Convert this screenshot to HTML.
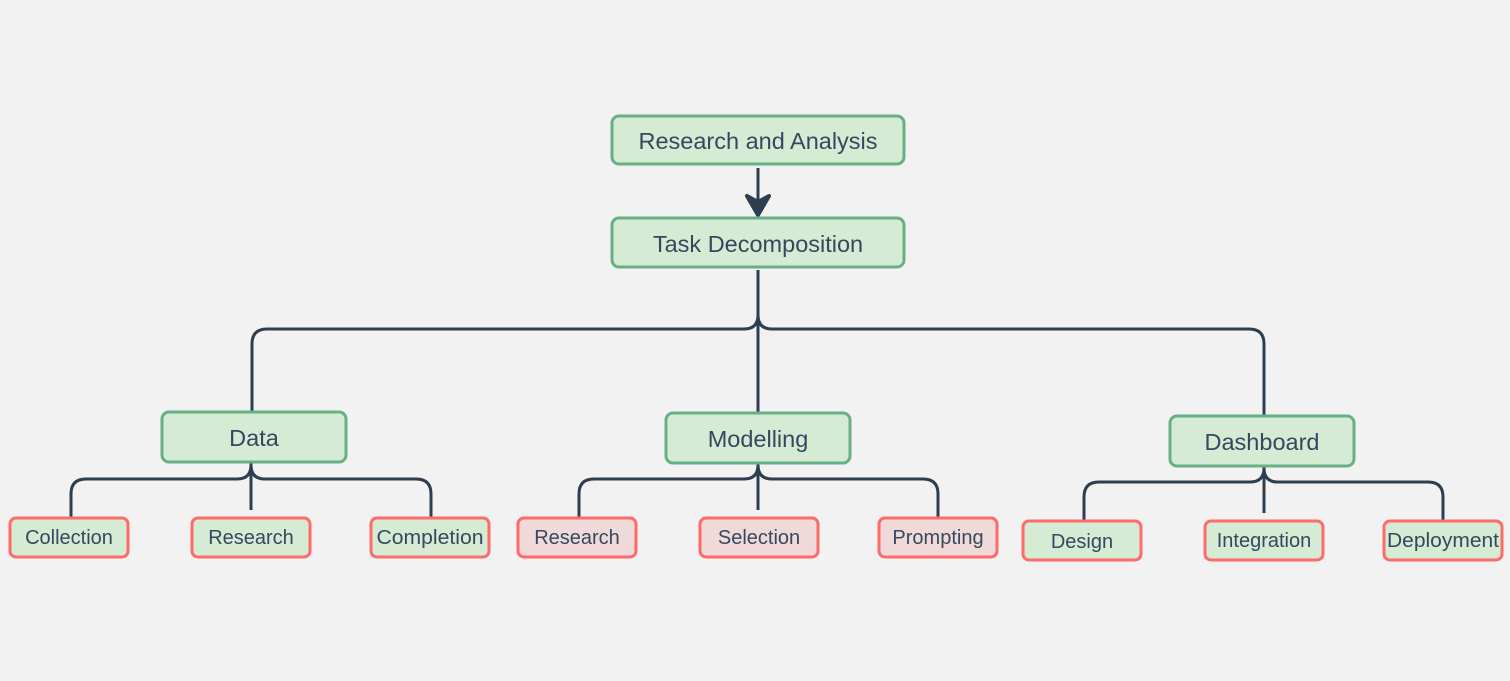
<!DOCTYPE html>
<html><head><meta charset="utf-8"><style>
html,body{margin:0;padding:0;background:#f2f2f2;}
svg{display:block}
text{font-family:"Liberation Sans","DejaVu Sans",sans-serif;fill:#34495e;text-anchor:middle;dominant-baseline:central}
</style></head><body>
<svg width="1510" height="681" viewBox="0 0 1510 681">
<rect width="1510" height="681" fill="#f2f2f2"/>
<g fill="none" stroke="#2d3e50" stroke-width="3">
<line x1="758" y1="168" x2="758" y2="206"/>
<path d="M252 412 V344 Q252 329 267 329 H744 Q758 329 758 315 V270"/>
<path d="M1264 416 V344 Q1264 329 1249 329 H772 Q758 329 758 315"/>
<line x1="758" y1="315" x2="758" y2="412"/>
<path d="M71 518 V494 Q71 479 86 479 H237 Q251 479 251 465"/>
<path d="M431 518 V494 Q431 479 416 479 H265 Q251 479 251 465"/>
<line x1="251" y1="463" x2="251" y2="510"/>
<path d="M579 518 V494 Q579 479 594 479 H744 Q758 479 758 465"/>
<path d="M938 518 V494 Q938 479 923 479 H772 Q758 479 758 465"/>
<line x1="758" y1="464" x2="758" y2="510"/>
<path d="M1084 521 V497 Q1084 482 1099 482 H1250 Q1264 482 1264 468"/>
<path d="M1443 521 V497 Q1443 482 1428 482 H1278 Q1264 482 1264 468"/>
<line x1="1264" y1="467" x2="1264" y2="513"/>
</g>
<path d="M747 196 L758 215 L769 196 L758 202 Z" fill="#2d3e50" stroke="#2d3e50" stroke-width="4" stroke-linejoin="round"/>
<g stroke-width="3">
<rect x="612" y="116" width="292" height="48" rx="7" fill="#d5ebd3" stroke="#67b086"/>
<rect x="612" y="218" width="292" height="49" rx="7" fill="#d5ebd3" stroke="#67b086"/>
<rect x="162" y="412" width="184" height="50" rx="7" fill="#d5ebd3" stroke="#67b086"/>
<rect x="666" y="413" width="184" height="50" rx="7" fill="#d5ebd3" stroke="#67b086"/>
<rect x="1170" y="416" width="184" height="50" rx="7" fill="#d5ebd3" stroke="#67b086"/>
<rect x="10" y="518" width="118" height="39" rx="6" fill="#d5ebd3" stroke="#fd6b6b"/>
<rect x="192" y="518" width="118" height="39" rx="6" fill="#d5ebd3" stroke="#fd6b6b"/>
<rect x="371" y="518" width="118" height="39" rx="6" fill="#d5ebd3" stroke="#fd6b6b"/>
<rect x="518" y="518" width="118" height="39" rx="6" fill="#f0d9d9" stroke="#fd6b6b"/>
<rect x="700" y="518" width="118" height="39" rx="6" fill="#f0d9d9" stroke="#fd6b6b"/>
<rect x="879" y="518" width="118" height="39" rx="6" fill="#f0d9d9" stroke="#fd6b6b"/>
<rect x="1023" y="521" width="118" height="39" rx="6" fill="#d5ebd3" stroke="#fd6b6b"/>
<rect x="1205" y="521" width="118" height="39" rx="6" fill="#d5ebd3" stroke="#fd6b6b"/>
<rect x="1384" y="521" width="118" height="39" rx="6" fill="#d5ebd3" stroke="#fd6b6b"/>
</g>
<g font-size="23.5">
<text x="758" y="141">Research and Analysis</text>
<text x="758" y="244">Task Decomposition</text>
<text x="254" y="438">Data</text>
<text x="758" y="439">Modelling</text>
<text x="1262" y="442">Dashboard</text>
</g>
<g font-size="20">
<text x="69" y="538">Collection</text>
<text x="251" y="538">Research</text>
<text x="430" y="538" textLength="107" lengthAdjust="spacingAndGlyphs">Completion</text>
<text x="577" y="538">Research</text>
<text x="759" y="538">Selection</text>
<text x="938" y="538">Prompting</text>
<text x="1082" y="542">Design</text>
<text x="1264" y="541">Integration</text>
<text x="1443" y="541" textLength="112" lengthAdjust="spacingAndGlyphs">Deployment</text>
</g>
</svg>
</body></html>
